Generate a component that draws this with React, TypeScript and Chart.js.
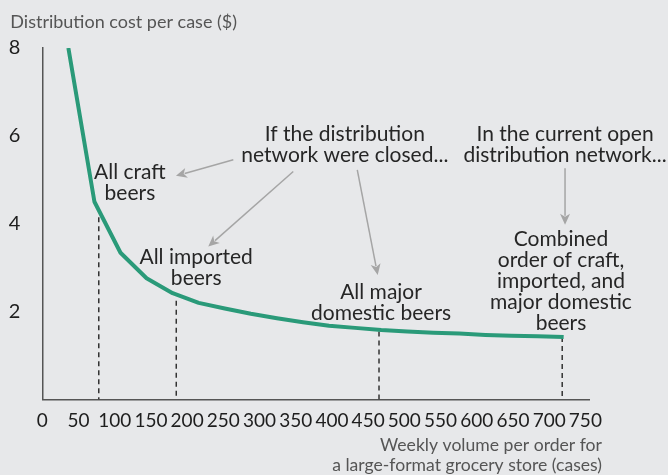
import { useEffect, useRef } from 'react';
import { Chart, registerables } from 'chart.js';

Chart.register(...registerables);

// Weekly volume per order (cases) and distribution cost per case ($)
const volumes = [36, 72, 108, 144, 180, 216, 252, 288, 324, 360, 396, 432, 468, 504, 540, 576, 612, 648, 684, 720];
const costs = [8.0, 4.5, 3.34, 2.76, 2.42, 2.2, 2.07, 1.95, 1.85, 1.76, 1.68, 1.63, 1.58, 1.55, 1.52, 1.5, 1.47, 1.45, 1.44, 1.42];

// Dashed reference lines (order volume for each beer group)
const markerVolumes = [78, 185, 465, 718];
const markerCosts = [4.15, 2.25, 1.55, 1.42];

// Axis ticks
const xTickStep = 50;
const xMax = 750;
const yTickLabels = [2, 4, 6, 8];

const yTitle = 'Distribution cost per case ($)';
const xTitle = ['Weekly volume per order for', 'a large-format grocery store (cases)'];

// Annotations (anchored in data space)
const noteTexts = [
  ['All craft', 'beers'],
  ['All imported', 'beers'],
  ['All major', 'domestic beers'],
  ['If the distribution', 'network were closed...'],
  ['In the current open', 'distribution network...'],
  ['Combined', 'order of craft,', 'imported, and', 'major domestic', 'beers'],
];
const noteX = [121, 212.5, 467.8, 417.8, 721.9, 716.3];
const noteY = [4.94, 3.01, 2.21, 5.8, 5.8, 2.7];

const arrowFromX = [263.8, 346.6, 435, 721.9];
const arrowFromY = [5.455, 5.19, 5.228, 5.266];
const arrowToX = [184.6, 229.2, 463.2, 721.9];
const arrowToY = [5.09, 3.48, 2.836, 3.975];

const BG = '#e7e8ea';
const FONT = 'Lato, "Open Sans", sans-serif';

const notesPlugin = {
  id: 'notes',
  afterDatasetsDraw(chart: any) {
    const { ctx, chartArea } = chart;
    const xs = chart.scales.x;
    const ys = chart.scales.y;
    ctx.save();
    // arrows
    ctx.strokeStyle = '#a5a5a5';
    ctx.fillStyle = '#a5a5a5';
    ctx.lineWidth = 1.5;
    for (let i = 0; i < arrowFromX.length; i++) {
      const x1 = xs.getPixelForValue(arrowFromX[i]);
      const y1 = ys.getPixelForValue(arrowFromY[i]);
      const x2 = xs.getPixelForValue(arrowToX[i]);
      const y2 = ys.getPixelForValue(arrowToY[i]);
      const a = Math.atan2(y2 - y1, x2 - x1);
      const head = 11;
      const half = 5;
      const bx = x2 - head * Math.cos(a);
      const by = y2 - head * Math.sin(a);
      ctx.beginPath();
      ctx.moveTo(x1, y1);
      ctx.lineTo(bx + 2 * Math.cos(a), by + 2 * Math.sin(a));
      ctx.stroke();
      ctx.beginPath();
      ctx.moveTo(x2, y2);
      ctx.lineTo(bx + half * Math.sin(a), by - half * Math.cos(a));
      ctx.lineTo(bx + 3 * Math.cos(a), by + 3 * Math.sin(a));
      ctx.lineTo(bx - half * Math.sin(a), by + half * Math.cos(a));
      ctx.closePath();
      ctx.fill();
    }
    // annotation texts
    ctx.fillStyle = '#262626';
    ctx.font = `21px ${FONT}`;
    ctx.textAlign = 'center';
    ctx.textBaseline = 'middle';
    const lh = 21;
    noteTexts.forEach((lines, i) => {
      const cx = xs.getPixelForValue(noteX[i]);
      const cy = ys.getPixelForValue(noteY[i]);
      lines.forEach((ln, j) => {
        ctx.fillText(ln, cx, cy + (j - (lines.length - 1) / 2) * lh);
      });
    });
    // axis titles
    ctx.fillStyle = '#555555';
    ctx.font = `18px ${FONT}`;
    ctx.textAlign = 'left';
    ctx.fillText(yTitle, chartArea.left - 32, chartArea.top - 26);
    ctx.font = `17.6px ${FONT}`;
    ctx.textAlign = 'right';
    xTitle.forEach((ln, j) => {
      ctx.fillText(ln, chartArea.right + 13, chartArea.bottom + 46 + j * 19.5);
    });
    ctx.restore();
  },
};

export default function App() {
  const ref = useRef<HTMLCanvasElement | null>(null);

  useEffect(() => {
    if (!ref.current) return;
    const markerSets = markerVolumes.map((v, i) => ({
      data: [
        { x: v, y: markerCosts[i] },
        { x: v, y: 0 },
      ],
      borderColor: '#333333',
      borderWidth: 1.5,
      borderDash: [5, 4],
      pointRadius: 0,
      fill: false,
    }));
    const chart = new Chart(ref.current, {
      type: 'line',
      data: {
        datasets: [
          {
            data: volumes.map((v, i) => ({ x: v, y: costs[i] })),
            borderColor: '#2a9a79',
            borderWidth: 4,
            borderJoinStyle: 'round',
            pointRadius: 0,
            tension: 0,
            fill: false,
          },
          ...markerSets,
        ] as any,
      },
      options: {
        animation: false,
        responsive: true,
        maintainAspectRatio: false,
        layout: { padding: { top: 48, right: 79, left: 0, bottom: 0 } },
        plugins: {
          legend: { display: false },
          tooltip: { enabled: false },
          title: { display: false },
        },
        scales: {
          x: {
            type: 'linear',
            min: 0,
            max: xMax + 5,
            afterFit: (s: any) => {
              s.height = 75.5;
            },
            grid: { display: false, drawTicks: false },
            border: { display: true, color: '#555555', width: 1.5 },
            ticks: {
              stepSize: xTickStep,
              includeBounds: false,
              autoSkip: false,
              maxRotation: 0,
              minRotation: 0,
              padding: 10,
              color: '#1e1e1e',
              font: { family: FONT, size: 19 },
              callback: (v: any) => (v <= xMax ? String(v) : ''),
            },
          },
          y: {
            type: 'linear',
            min: 0,
            max: 8,
            afterFit: (s: any) => {
              s.width = 42.3;
            },
            grid: { display: false, drawTicks: false },
            border: { display: true, color: '#555555', width: 1.5 },
            ticks: {
              stepSize: 2,
              padding: 22,
              color: '#1e1e1e',
              font: { family: FONT, size: 20 },
              callback: (v: any) => (yTickLabels.includes(v) ? String(v) : ''),
            },
          },
        },
      },
      plugins: [notesPlugin],
    });
    return () => chart.destroy();
  }, []);

  return (
    <div style={{ position: 'fixed', left: 0, top: 0, width: 668, height: 475, background: BG }}>
      <canvas ref={ref} />
    </div>
  );
}
